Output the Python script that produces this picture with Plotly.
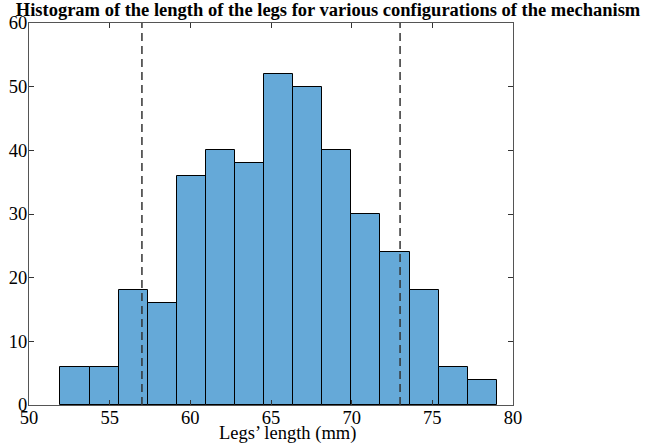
import numpy as np
import plotly.graph_objects as go

counts = [6, 6, 18, 16, 36, 40, 38, 52, 50, 40, 30, 24, 18, 6, 4]
bin_min = 51.95
bin_max = 79.0
vlines = [57.0, 73.0]
x_ticks = [50, 55, 60, 65, 70, 75, 80]
y_ticks = [0, 10, 20, 30, 40, 50, 60]

edges = np.linspace(bin_min, bin_max, len(counts) + 1)
centers = (edges[:-1] + edges[1:]) / 2
widths = np.diff(edges)

font = "Liberation Serif, Times New Roman, serif"

fig = go.Figure()
fig.add_trace(go.Bar(
    x=centers, y=counts, width=widths,
    marker=dict(color="#65a9d8", line=dict(color="black", width=1)),
    showlegend=False,
))

for v in vlines:
    fig.add_shape(type="line", x0=v, x1=v, y0=0, y1=1, xref="x", yref="y domain",
                  line=dict(color="#333333", width=1.5, dash="8px,5px"))

axis_common = dict(
    showgrid=False, zeroline=False, showline=True, linecolor="#555555", linewidth=1,
    mirror="ticks", ticks="inside", ticklen=5, tickcolor="#333333",
    tickfont=dict(family=font, size=18.5, color="black"), automargin=False,
)

fig.add_annotation(text="Legs’ length (mm)", xref="paper", yref="paper",
                   x=0.534, y=-0.106, xanchor="center", yanchor="bottom", showarrow=False,
                   borderpad=0, font=dict(family=font, size=18.5, color="black"))

fig.update_layout(
    width=656, height=448,
    margin=dict(l=29, r=143, t=23, b=43),
    paper_bgcolor="white", plot_bgcolor="white",
    title=dict(text="<b>Histogram of the length of the legs for various configurations of the mechanism</b>",
               x=0.5, xref="container", xanchor="center", y=0.993, yanchor="top",
               font=dict(family=font, size=18.5, color="black")),
    xaxis=dict(range=[50, 80], tickvals=x_ticks, ticktext=[str(t) for t in x_ticks],
               ticklabelstandoff=-4, **axis_common),
    yaxis=dict(range=[0, 60], tickvals=y_ticks, ticktext=[str(t) for t in y_ticks],
               ticklabelstandoff=-3, **axis_common),
    bargap=0,
)

fig.write_html("out.html")
